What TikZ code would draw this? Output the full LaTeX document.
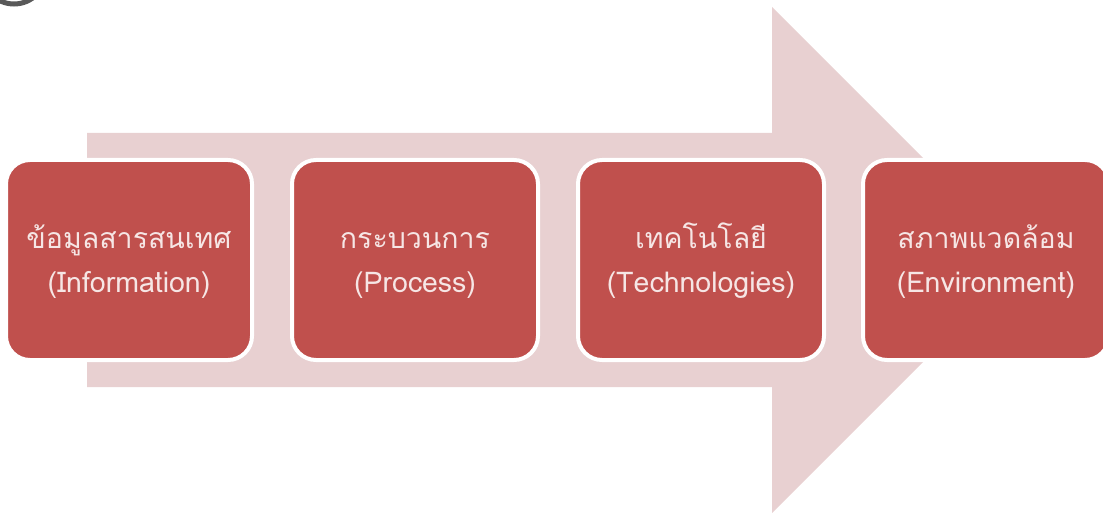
\documentclass[tikz,border=0pt]{standalone}
\usepackage{fontspec}
\newfontfamily\thaifont[Script=Thai]{Loma}
\definecolor{stagered}{HTML}{C0504D}
\definecolor{arrowpink}{HTML}{E8D0D1}
\definecolor{stagetext}{HTML}{F6E6E5}
% two-line label, both lines on a fixed strut so the baselines line up
\newcommand{\stagelabel}[2]{\rule[-0.35em]{0pt}{1.45em}#1\\\rule[-0.35em]{0pt}{1.2em}#2}

\begin{document}
\begin{tikzpicture}[x=1pt,y=-1pt,
  stage/.style={draw=white, line width=4pt, fill=stagered, rounded corners=24pt,
    minimum width=246pt, minimum height=200pt, text=stagetext, align=center,
    font=\thaifont\fontsize{28.5}{44}\selectfont}]
\useasboundingbox (0,0) rectangle (1103,513);

% ring peeking in at the top left corner
\begin{scope}
\clip (0,0) rectangle (1103,513);
\draw[gray!70!black, line width=5pt] (14,-28) circle (32);
\end{scope}

% big arrow behind the stages
\fill[arrowpink] (87,133) -- (772,133) -- (772,7) -- (1025,260)
  -- (772,513) -- (772,387) -- (87,387) -- cycle;

\node[stage] (info) at (129,260) {\stagelabel{ข้อมูลสารสนเทศ}{(Information)}};
\node[stage] (proc) at (415,260) {\stagelabel{กระบวนการ}{(Process)}};
\node[stage] (tech) at (701,260) {\stagelabel{เทคโนโลยี}{(Technologies)}};
\node[stage] (env)  at (986,260) {\stagelabel{สภาพแวดล้อม}{(Environment)}};

\end{tikzpicture}
\end{document}
